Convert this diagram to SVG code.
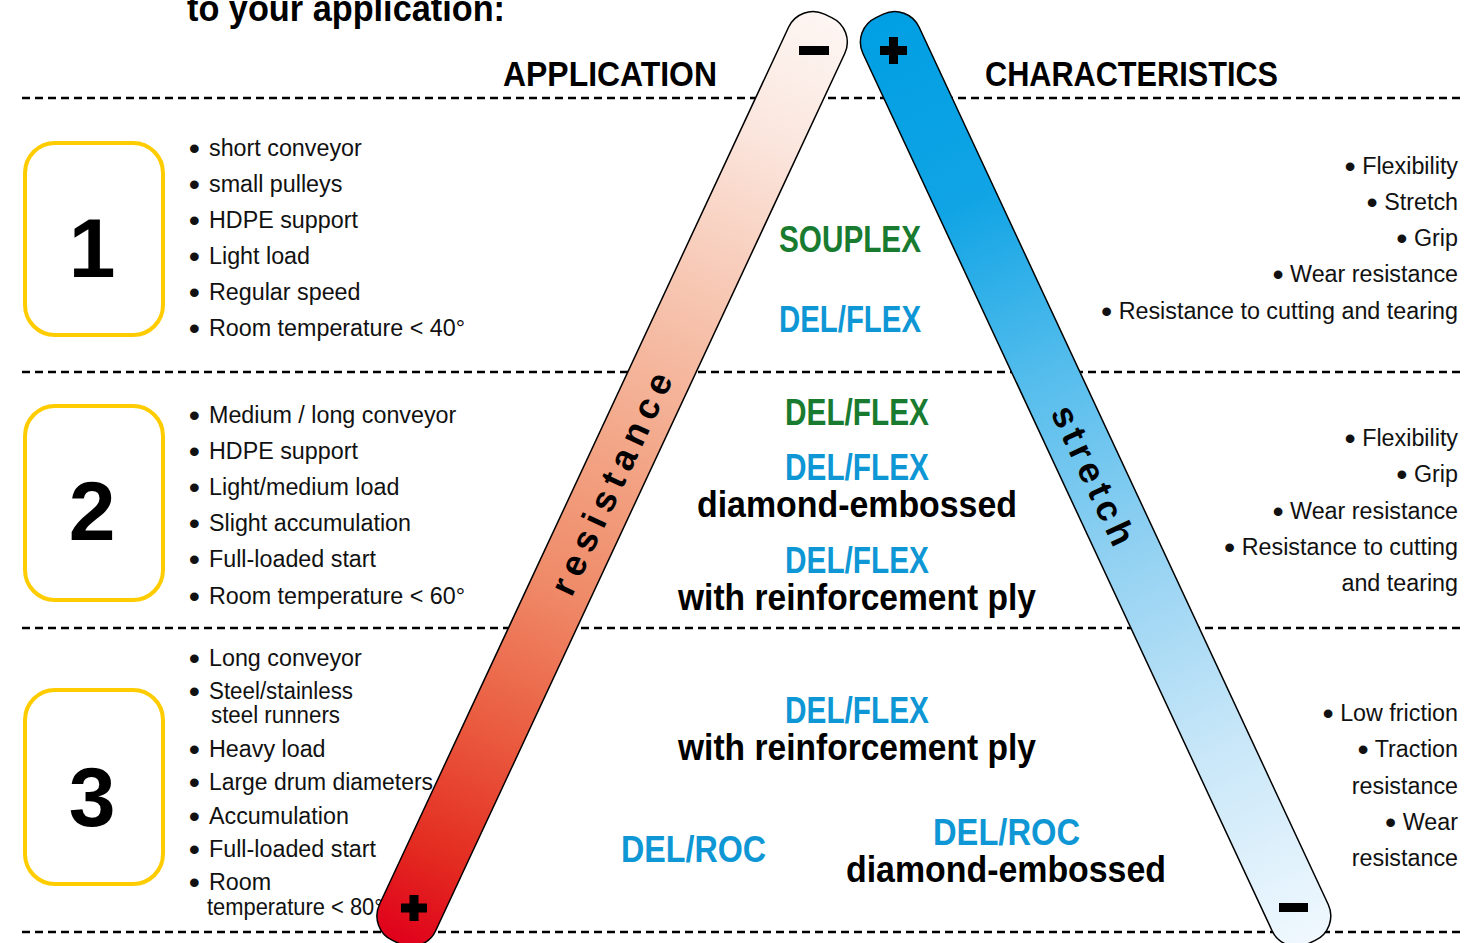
<svg xmlns="http://www.w3.org/2000/svg" width="1481" height="943" viewBox="0 0 1481 943">
<defs>
<linearGradient id="gRes" x1="0" y1="0" x2="0" y2="1">
<stop offset="0" stop-color="#fdf6f3"/>
<stop offset="0.13" stop-color="#fbe6de"/>
<stop offset="0.29" stop-color="#f7c8b4"/>
<stop offset="0.5" stop-color="#f2a080"/>
<stop offset="0.62" stop-color="#ef8a68"/>
<stop offset="0.77" stop-color="#ea5c40"/>
<stop offset="0.91" stop-color="#e32a20"/>
<stop offset="1" stop-color="#e0001b"/>
</linearGradient>
<linearGradient id="gStr" x1="0" y1="0" x2="0" y2="1">
<stop offset="0" stop-color="#009fe3"/>
<stop offset="0.2" stop-color="#10a4e5"/>
<stop offset="0.38" stop-color="#52bcec"/>
<stop offset="0.58" stop-color="#92d1f2"/>
<stop offset="0.78" stop-color="#c6e6f8"/>
<stop offset="1" stop-color="#f0f8fe"/>
</linearGradient>
<style>
.t{font-family:"Liberation Sans",Arial,sans-serif;font-size:23.3px;fill:#111}
.e{text-anchor:end}
.b{font-size:32px}
.h{font-family:"Liberation Sans",Arial,sans-serif;font-weight:bold;fill:#000}
.p{font-family:"Liberation Sans",Arial,sans-serif;font-weight:bold;font-size:36px;text-anchor:middle}
.bl{fill:#0e97d4}
.gr{fill:#197b30}
.bk{fill:#000}
.box{fill:#fff;stroke:#ffcc00;stroke-width:4}
.num{font-family:"Liberation Sans",Arial,sans-serif;font-weight:bold;font-size:84px;text-anchor:middle;fill:#000}
.sep{stroke:#000;stroke-width:2.4;stroke-dasharray:8 5;fill:none}
.band{stroke:#000;stroke-width:1.5}
.bt{font-family:"Liberation Sans",Arial,sans-serif;font-weight:bold;font-size:36px;text-anchor:middle;fill:#000}
</style>
</defs>
<rect width="1481" height="943" fill="#fff"/>

<g id="title">
<text class="h" x="187" y="21" font-size="36" textLength="318" lengthAdjust="spacingAndGlyphs">to your application:</text>
</g>
<g id="headers">
<text class="h" x="503" y="86" font-size="35" textLength="214" lengthAdjust="spacingAndGlyphs">APPLICATION</text>
<text class="h" x="985" y="86" font-size="35" textLength="293" lengthAdjust="spacingAndGlyphs">CHARACTERISTICS</text>
</g>

<g id="connectors">
<line class="sep" x1="22" y1="98" x2="1460" y2="98"/>
<line class="sep" x1="22" y1="372" x2="1460" y2="372"/>
<line class="sep" x1="22" y1="628" x2="1460" y2="628"/>
<line class="sep" x1="22" y1="932" x2="1460" y2="932"/>
</g>

<g id="row1">
<rect class="box" x="25" y="143" width="138" height="192" rx="30"/>
<text class="num" x="92" y="277">1</text>
<text class="t" y="155.5"><tspan class="b" x="188.7" dy="3.5">•</tspan><tspan x="209" dy="-3.5">short conveyor</tspan></text>
<text class="t" y="191.5"><tspan class="b" x="188.7" dy="3.5">•</tspan><tspan x="209" dy="-3.5">small pulleys</tspan></text>
<text class="t" y="227.5"><tspan class="b" x="188.7" dy="3.5">•</tspan><tspan x="209" dy="-3.5">HDPE support</tspan></text>
<text class="t" y="263.5"><tspan class="b" x="188.7" dy="3.5">•</tspan><tspan x="209" dy="-3.5">Light load</tspan></text>
<text class="t" y="299.5"><tspan class="b" x="188.7" dy="3.5">•</tspan><tspan x="209" dy="-3.5">Regular speed</tspan></text>
<text class="t" y="335.5"><tspan class="b" x="188.7" dy="3.5">•</tspan><tspan x="209" dy="-3.5">Room temperature &lt; 40°</tspan></text>
<text class="t e" x="1458" y="173.5"><tspan class="b" dy="3.5">•</tspan><tspan dy="-3.5"> Flexibility</tspan></text>
<text class="t e" x="1458" y="209.5"><tspan class="b" dy="3.5">•</tspan><tspan dy="-3.5"> Stretch</tspan></text>
<text class="t e" x="1458" y="245.5"><tspan class="b" dy="3.5">•</tspan><tspan dy="-3.5"> Grip</tspan></text>
<text class="t e" x="1458" y="281.5"><tspan class="b" dy="3.5">•</tspan><tspan dy="-3.5"> Wear resistance</tspan></text>
<text class="t e" x="1458" y="318.5"><tspan class="b" dy="3.5">•</tspan><tspan dy="-3.5"> Resistance to cutting and tearing</tspan></text>
</g>

<g id="row2">
<rect class="box" x="25" y="406" width="138" height="194" rx="30"/>
<text class="num" x="92" y="540">2</text>
<text class="t" y="422.5"><tspan class="b" x="188.7" dy="3.5">•</tspan><tspan x="209" dy="-3.5">Medium / long conveyor</tspan></text>
<text class="t" y="458.5"><tspan class="b" x="188.7" dy="3.5">•</tspan><tspan x="209" dy="-3.5">HDPE support</tspan></text>
<text class="t" y="494.5"><tspan class="b" x="188.7" dy="3.5">•</tspan><tspan x="209" dy="-3.5">Light/medium load</tspan></text>
<text class="t" y="530.5"><tspan class="b" x="188.7" dy="3.5">•</tspan><tspan x="209" dy="-3.5">Slight accumulation</tspan></text>
<text class="t" y="566.5"><tspan class="b" x="188.7" dy="3.5">•</tspan><tspan x="209" dy="-3.5">Full-loaded start</tspan></text>
<text class="t" y="603.5"><tspan class="b" x="188.7" dy="3.5">•</tspan><tspan x="209" dy="-3.5">Room temperature &lt; 60°</tspan></text>
<text class="t e" x="1458" y="445.5"><tspan class="b" dy="3.5">•</tspan><tspan dy="-3.5"> Flexibility</tspan></text>
<text class="t e" x="1458" y="481.5"><tspan class="b" dy="3.5">•</tspan><tspan dy="-3.5"> Grip</tspan></text>
<text class="t e" x="1458" y="518.5"><tspan class="b" dy="3.5">•</tspan><tspan dy="-3.5"> Wear resistance</tspan></text>
<text class="t e" x="1458" y="554.5"><tspan class="b" dy="3.5">•</tspan><tspan dy="-3.5"> Resistance to cutting</tspan></text>
<text class="t e" x="1458" y="590.5">and tearing</text>
</g>

<g id="row3">
<rect class="box" x="25" y="690" width="138" height="194" rx="30"/>
<text class="num" x="92" y="826">3</text>
<text class="t" y="665.5"><tspan class="b" x="188.7" dy="3.5">•</tspan><tspan x="209" dy="-3.5">Long conveyor</tspan></text>
<text class="t" y="698.5"><tspan class="b" x="188.7" dy="3.5">•</tspan><tspan x="209" dy="-3.5" textLength="144" lengthAdjust="spacingAndGlyphs">Steel/stainless</tspan></text>
<text class="t" x="211" y="722.5" textLength="129" lengthAdjust="spacingAndGlyphs">steel runners</text>
<text class="t" y="756.5"><tspan class="b" x="188.7" dy="3.5">•</tspan><tspan x="209" dy="-3.5">Heavy load</tspan></text>
<text class="t" y="789.5"><tspan class="b" x="188.7" dy="3.5">•</tspan><tspan x="209" dy="-3.5" textLength="224" lengthAdjust="spacingAndGlyphs">Large drum diameters</tspan></text>
<text class="t" y="823.5"><tspan class="b" x="188.7" dy="3.5">•</tspan><tspan x="209" dy="-3.5">Accumulation</tspan></text>
<text class="t" y="856.5"><tspan class="b" x="188.7" dy="3.5">•</tspan><tspan x="209" dy="-3.5">Full-loaded start</tspan></text>
<text class="t" y="889.5"><tspan class="b" x="188.7" dy="3.5">•</tspan><tspan x="209" dy="-3.5">Room</tspan></text>
<text class="t" x="207" y="914.5" textLength="176" lengthAdjust="spacingAndGlyphs">temperature &lt; 80°</text>
<text class="t e" x="1458" y="720.5"><tspan class="b" dy="3.5">•</tspan><tspan dy="-3.5"> Low friction</tspan></text>
<text class="t e" x="1458" y="756.5"><tspan class="b" dy="3.5">•</tspan><tspan dy="-3.5"> Traction</tspan></text>
<text class="t e" x="1458" y="793.5">resistance</text>
<text class="t e" x="1458" y="829.5"><tspan class="b" dy="3.5">•</tspan><tspan dy="-3.5"> Wear</tspan></text>
<text class="t e" x="1458" y="865.5">resistance</text>
</g>

<g id="band-resistance">
<g transform="translate(612.1,479) rotate(25)">
<rect class="band" x="-31" y="-511" width="62" height="1022" rx="27" fill="url(#gRes)"/>
</g>
<g transform="translate(614,481) rotate(-65)">
<text class="bt" x="0" y="11" letter-spacing="7">resistance</text>
</g>
<rect x="799" y="46" width="30" height="9" fill="#000"/>
<rect x="401" y="903.5" width="26" height="9" fill="#000"/>
<rect x="409.5" y="895" width="9" height="26" fill="#000"/>
</g>

<g id="band-stretch">
<g transform="translate(1095.6,479) rotate(-25)">
<rect class="band" x="-31" y="-511" width="62" height="1022" rx="27" fill="url(#gStr)"/>
</g>
<g transform="translate(1093,478) rotate(65)">
<text class="bt" x="0" y="11" letter-spacing="5">stretch</text>
</g>
<rect x="880" y="46" width="27" height="9" fill="#000"/>
<rect x="889" y="37" width="9" height="27" fill="#000"/>
<rect x="1279" y="903" width="29" height="9" fill="#000"/>
</g>

<g id="products">
<text class="p gr" x="850" y="252" textLength="142" lengthAdjust="spacingAndGlyphs">SOUPLEX</text>
<text class="p bl" x="850" y="332" textLength="142" lengthAdjust="spacingAndGlyphs">DEL/FLEX</text>
<text class="p gr" x="857" y="425" textLength="144" lengthAdjust="spacingAndGlyphs">DEL/FLEX</text>
<text class="p bl" x="857" y="480" textLength="144" lengthAdjust="spacingAndGlyphs">DEL/FLEX</text>
<text class="p bk" x="857" y="517" textLength="320" lengthAdjust="spacingAndGlyphs">diamond-embossed</text>
<text class="p bl" x="857" y="573" textLength="144" lengthAdjust="spacingAndGlyphs">DEL/FLEX</text>
<text class="p bk" x="857" y="610" textLength="358" lengthAdjust="spacingAndGlyphs">with reinforcement ply</text>
<text class="p bl" x="857" y="723" textLength="144" lengthAdjust="spacingAndGlyphs">DEL/FLEX</text>
<text class="p bk" x="857" y="760" textLength="358" lengthAdjust="spacingAndGlyphs">with reinforcement ply</text>
<text class="p bl" x="693.5" y="862" textLength="145" lengthAdjust="spacingAndGlyphs">DEL/ROC</text>
<text class="p bl" x="1006.5" y="845" textLength="147" lengthAdjust="spacingAndGlyphs">DEL/ROC</text>
<text class="p bk" x="1006" y="882" textLength="320" lengthAdjust="spacingAndGlyphs">diamond-embossed</text>
</g>
</svg>
